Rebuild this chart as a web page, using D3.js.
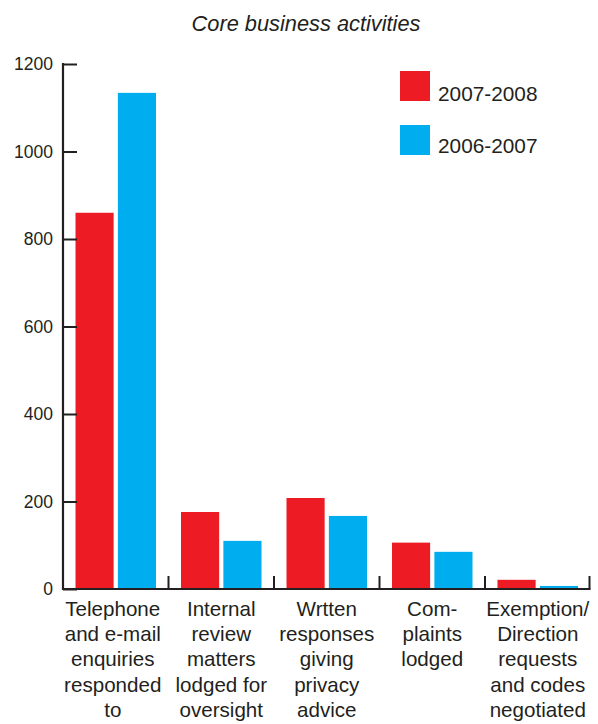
<!DOCTYPE html>
<html><head><meta charset="utf-8">
<script src="https://cdn.jsdelivr.net/npm/d3@7"></script>
<style>body{margin:0;background:#fff}svg{display:block}text{font-family:"Liberation Sans",Arial,sans-serif;fill:#231f20}</style>
</head><body><svg id="c" width="598" height="724"></svg>
<script>
const categories = [
  ["Telephone","and e-mail","enquiries","responded","to"],
  ["Internal","review","matters","lodged for","oversight"],
  ["Wrtten","responses","giving","privacy","advice"],
  ["Com-","plaints","lodged"],
  ["Exemption/","Direction","requests","and codes","negotiated"]
];
const series = ["2007-2008","2006-2007"];
const values2007_2008 = [860, 176, 208, 106, 21];
const values2006_2007 = [1134, 110, 167, 85, 7];
const yTicks = [0,200,400,600,800,1000,1200];
const colors = ["#ed1c24","#00aeef"];
const title = "Core business activities";

const svg = d3.select("#c");
const x0 = 63, x1 = 590.5, yTop = 64, yBot = 589;
const x = d3.scaleBand().domain(d3.range(categories.length)).range([x0, x1]).paddingInner(0).paddingOuter(0);
const y = d3.scaleLinear().domain([0,1200]).range([yBot, yTop]);
const xs = d3.scaleBand().domain(series).range([12.5, x.bandwidth()-12.5]).paddingInner(0.1);

svg.append("text").attr("x",306).attr("y",31).attr("text-anchor","middle")
  .attr("font-size",21.8).attr("font-style","italic").text(title);

const data = [values2007_2008, values2006_2007];
series.forEach((s,si)=>{
  svg.append("g").selectAll("rect").data(data[si]).join("rect")
    .attr("x",(d,i)=>x(i)+xs(s)).attr("width",xs.bandwidth())
    .attr("y",d=>y(d)).attr("height",d=>yBot-y(d)).attr("fill",colors[si]);
});

// y axis
const ya = svg.append("g").attr("transform",`translate(${x0},0)`)
  .call(d3.axisLeft(y).tickValues(yTicks).tickSize(-14).tickPadding(24).tickFormat(d3.format("d")));
ya.select(".domain").remove();
ya.selectAll(".tick line").attr("stroke","#231f20").attr("stroke-width",2);
ya.selectAll(".tick text").attr("font-size",17.5).attr("font-family","Liberation Sans, Arial, sans-serif").attr("fill","#231f20").attr("x",-10);
svg.append("line").attr("x1",x0).attr("x2",x0).attr("y1",yTop-1).attr("y2",yBot+1).attr("stroke","#231f20").attr("stroke-width",2.2);

// x axis
svg.append("line").attr("x1",x0).attr("x2",x1).attr("y1",yBot).attr("y2",yBot).attr("stroke","#231f20").attr("stroke-width",2.2);
const tickPos = d3.range(1,categories.length+1).map(i=> i<categories.length ? x(i) : x1-1);
svg.append("g").selectAll("line").data(tickPos).join("line")
  .attr("x1",d=>d).attr("x2",d=>d).attr("y1",yBot).attr("y2",yBot-13)
  .attr("stroke","#231f20").attr("stroke-width",2);

const lab = svg.append("g").selectAll("text").data(categories).join("text")
  .attr("text-anchor","middle").attr("font-size",20.6)
  .attr("transform",(d,i)=>`translate(${x(i)+x.bandwidth()/2 - (i===0?3:0)},616)`);
lab.selectAll("tspan").data(d=>d).join("tspan").attr("x",0).attr("y",(d,j)=>j*25.2).text(d=>d);

// legend
const lg = svg.append("g");
series.forEach((s,i)=>{
  lg.append("rect").attr("x",400).attr("y",71+i*54).attr("width",30).attr("height",30).attr("fill",colors[i]);
  lg.append("text").attr("x",438).attr("y",101+i*52).attr("font-size",20.8).text(s);
});
</script></body></html>
